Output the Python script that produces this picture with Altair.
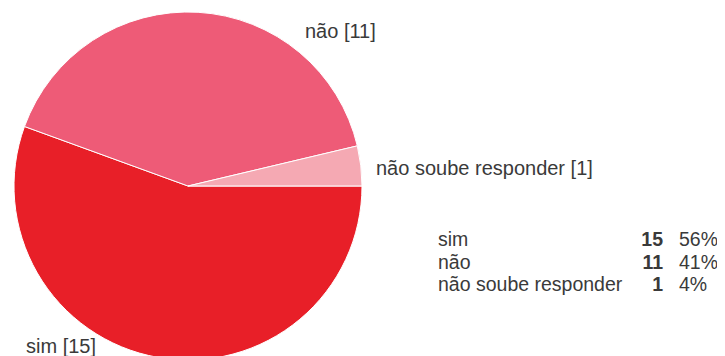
import math
import altair as alt
import pandas as pd

categories = ["sim", "não", "não soube responder"]
counts = [15, 11, 1]
percents = ["56%", "41%", "4%"]
colors = ["#E81F28", "#EE5B77", "#F5A9B3"]

df = pd.DataFrame({
    "cat": categories,
    "count": counts,
    "pct": percents,
    "ord": list(range(len(categories))),
})

FONT = "Liberation Sans"
TXT = "#3a3a3a"

base = alt.Chart(df)

pie = base.mark_arc(stroke="white", strokeWidth=1).encode(
    theta=alt.Theta("count:Q", stack=True,
                    scale=alt.Scale(range=[math.pi / 2, math.pi / 2 + 2 * math.pi])),
    color=alt.Color("cat:N", scale=alt.Scale(domain=categories, range=colors), legend=None),
    order=alt.Order("ord:Q"),
    x=alt.value(180),
    y=alt.value(178),
    radius=alt.value(174),
)

def pie_label(cat, x, y):
    return base.transform_filter(alt.datum.cat == cat).transform_calculate(
        label=alt.datum.cat + " [" + alt.datum.count + "]"
    ).mark_text(align="left", baseline="alphabetic", font=FONT, fontSize=20, color=TXT).encode(
        text="label:N", x=alt.value(x), y=alt.value(y)
    )

lab_nao = pie_label("não", 297, 30)
lab_ns = pie_label("não soube responder", 368, 167)
lab_sim = pie_label("sim", 18, 345)

yscale = alt.Scale(domain=categories, range=[238, 283], padding=0)

leg_name = base.mark_text(align="left", baseline="alphabetic", font=FONT, fontSize=19.5, color=TXT).encode(
    text="cat:N",
    x=alt.value(430),
    y=alt.Y("cat:N", scale=yscale, axis=None),
)
leg_count = base.mark_text(align="right", baseline="alphabetic", font=FONT, fontSize=19.5,
                           fontWeight="bold", color=TXT).encode(
    text="count:Q",
    x=alt.value(655),
    y=alt.Y("cat:N", scale=yscale, axis=None),
)
leg_pct = base.mark_text(align="left", baseline="alphabetic", font=FONT, fontSize=19.5, color=TXT).encode(
    text="pct:N",
    x=alt.value(671),
    y=alt.Y("cat:N", scale=yscale, axis=None),
)

chart = alt.layer(pie, lab_nao, lab_ns, lab_sim, leg_name, leg_count, leg_pct).resolve_scale(
    y="shared"
).properties(
    width=709,
    height=348,
    padding=0,
    autosize=alt.AutoSizeParams(type="none"),
).configure_view(stroke=None)

chart.save("out.html", embed_options={"renderer": "svg", "actions": False})
